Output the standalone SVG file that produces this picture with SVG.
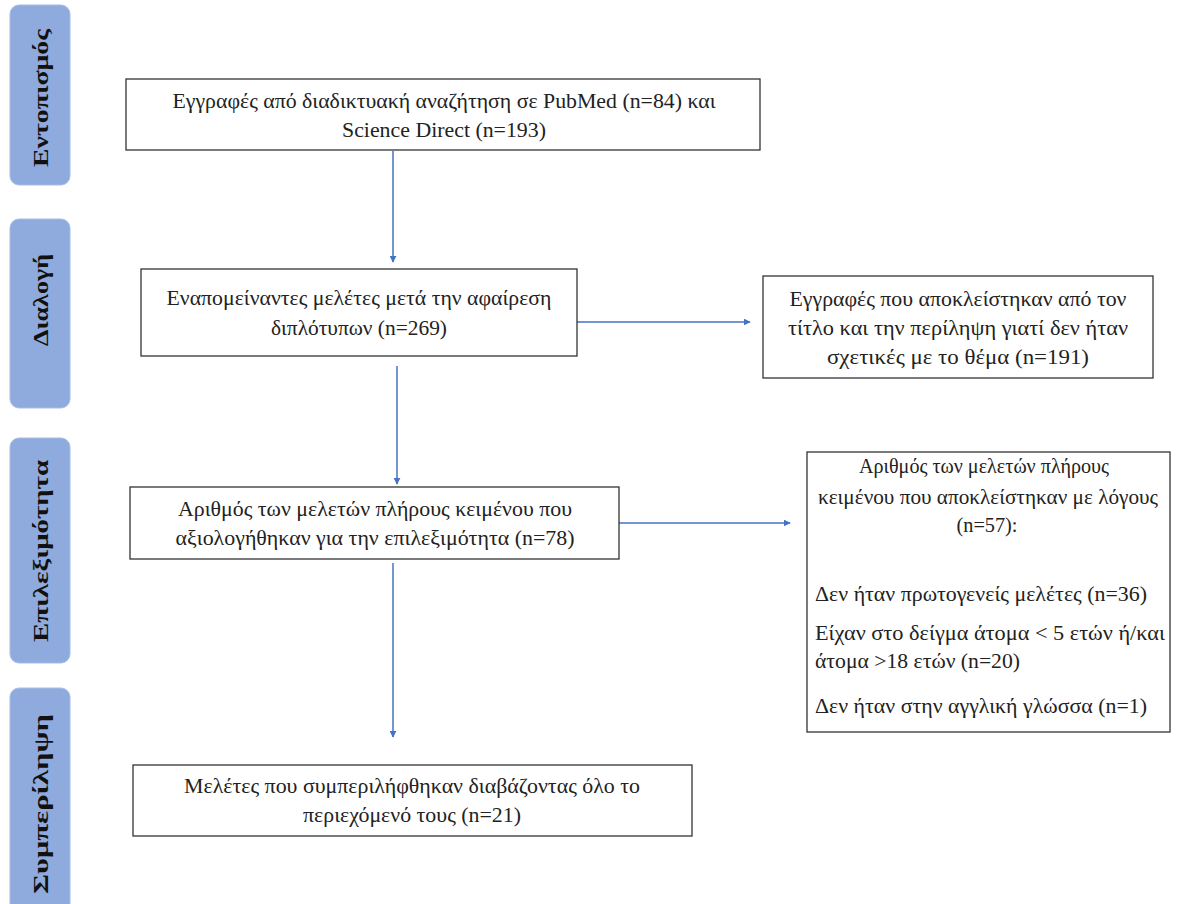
<svg xmlns="http://www.w3.org/2000/svg" width="1180" height="904" viewBox="0 0 1180 904">
<style>
.bar{fill:#8faadc;stroke:#a9bde6;stroke-width:1}
.side{font-family:"Liberation Serif","DejaVu Serif",serif;font-size:22px;font-weight:bold;fill:#111;text-anchor:middle}
.box{fill:#fff;stroke:#333;stroke-width:1.3}
.t{font-family:"Liberation Serif","DejaVu Serif",serif;font-size:21px;fill:#222;text-anchor:middle}
.tl{font-family:"Liberation Serif","DejaVu Serif",serif;font-size:21px;fill:#222}
.c{stroke:#4472c4;stroke-width:1.5;fill:none;marker-end:url(#ah)}
</style>
<defs>
<marker id="ah" viewBox="0 0 10 10" refX="9" refY="5" markerWidth="7" markerHeight="7" markerUnits="userSpaceOnUse" orient="auto"><path d="M0,0 L10,5 L0,10 z" fill="#4472c4"/></marker>
</defs>
<rect width="1180" height="904" fill="#fff"/>
<g id="phase1"><rect class="bar" x="10" y="5" width="60" height="180" rx="9"/><text class="side" transform="translate(48,98) rotate(-90)" textLength="138" lengthAdjust="spacingAndGlyphs">Εντοπισμός</text></g>
<g id="phase2"><rect class="bar" x="10" y="219" width="60" height="189" rx="9"/><text class="side" transform="translate(48,300) rotate(-90)" textLength="92" lengthAdjust="spacingAndGlyphs">Διαλογή</text></g>
<g id="phase3"><rect class="bar" x="10" y="438" width="60" height="225" rx="9"/><text class="side" transform="translate(48,551) rotate(-90)" textLength="182" lengthAdjust="spacingAndGlyphs">Επιλεξιμότητα</text></g>
<g id="phase4"><rect class="bar" x="10" y="688" width="60" height="230" rx="9"/><text class="side" transform="translate(48,804) rotate(-90)" textLength="180" lengthAdjust="spacingAndGlyphs">Συμπερίληψη</text></g>
<g id="connectors">
<line class="c" x1="393" y1="151" x2="393" y2="262"/>
<line class="c" x1="577" y1="322" x2="750" y2="322"/>
<line class="c" x1="397" y1="366" x2="397" y2="484"/>
<line class="c" x1="619" y1="523" x2="790" y2="523"/>
<line class="c" x1="393" y1="563" x2="393" y2="737"/>
</g>
<g id="n1"><rect class="box" x="126" y="79" width="634" height="71"/><text class="t" x="444" y="108" textLength="543" lengthAdjust="spacingAndGlyphs">Εγγραφές από διαδικτυακή αναζήτηση σε PubMed (n=84) και</text><text class="t" x="444" y="137" textLength="204" lengthAdjust="spacingAndGlyphs">Science Direct (n=193)</text></g>
<g id="n2"><rect class="box" x="141" y="269" width="436" height="87"/><text class="t" x="359" y="305" textLength="385" lengthAdjust="spacingAndGlyphs">Εναπομείναντες μελέτες μετά την αφαίρεση</text><text class="t" x="359" y="335" textLength="176" lengthAdjust="spacingAndGlyphs">διπλότυπων (n=269)</text></g>
<g id="n3"><rect class="box" x="763" y="276" width="390" height="102"/><text class="t" x="958" y="306" textLength="337" lengthAdjust="spacingAndGlyphs">Εγγραφές που αποκλείστηκαν από τον</text><text class="t" x="958" y="335" textLength="340" lengthAdjust="spacingAndGlyphs">τίτλο και την περίληψη γιατί δεν ήταν</text><text class="t" x="958" y="364" textLength="262" lengthAdjust="spacingAndGlyphs">σχετικές με το θέμα (n=191)</text></g>
<g id="n4"><rect class="box" x="130" y="487" width="489" height="72"/><text class="t" x="375" y="516" textLength="394" lengthAdjust="spacingAndGlyphs">Αριθμός των μελετών πλήρους κειμένου που</text><text class="t" x="375" y="545" textLength="399" lengthAdjust="spacingAndGlyphs">αξιολογήθηκαν για την επιλεξιμότητα (n=78)</text></g>
<g id="n5"><rect class="box" x="807" y="452" width="363" height="280"/><text class="t" x="984" y="473" textLength="250" lengthAdjust="spacingAndGlyphs">Αριθμός των μελετών πλήρους</text><text class="t" x="988" y="504" textLength="340" lengthAdjust="spacingAndGlyphs">κειμένου που αποκλείστηκαν με λόγους</text><text class="t" x="987" y="532" textLength="61" lengthAdjust="spacingAndGlyphs">(n=57):</text><text class="tl" x="815" y="601" textLength="332" lengthAdjust="spacingAndGlyphs">Δεν ήταν πρωτογενείς μελέτες (n=36)</text><text class="tl" x="815" y="640" textLength="350" lengthAdjust="spacingAndGlyphs">Είχαν στο δείγμα άτομα &lt; 5 ετών ή/και</text><text class="tl" x="815" y="668" textLength="205" lengthAdjust="spacingAndGlyphs">άτομα &gt;18 ετών (n=20)</text><text class="tl" x="815" y="713" textLength="332" lengthAdjust="spacingAndGlyphs">Δεν ήταν στην αγγλική γλώσσα (n=1)</text></g>
<g id="n6"><rect class="box" x="133" y="765" width="559" height="71"/><text class="t" x="412" y="793" textLength="456" lengthAdjust="spacingAndGlyphs">Μελέτες που συμπεριλήφθηκαν διαβάζοντας όλο το</text><text class="t" x="412" y="822" textLength="218" lengthAdjust="spacingAndGlyphs">περιεχόμενό τους (n=21)</text></g>
</svg>
